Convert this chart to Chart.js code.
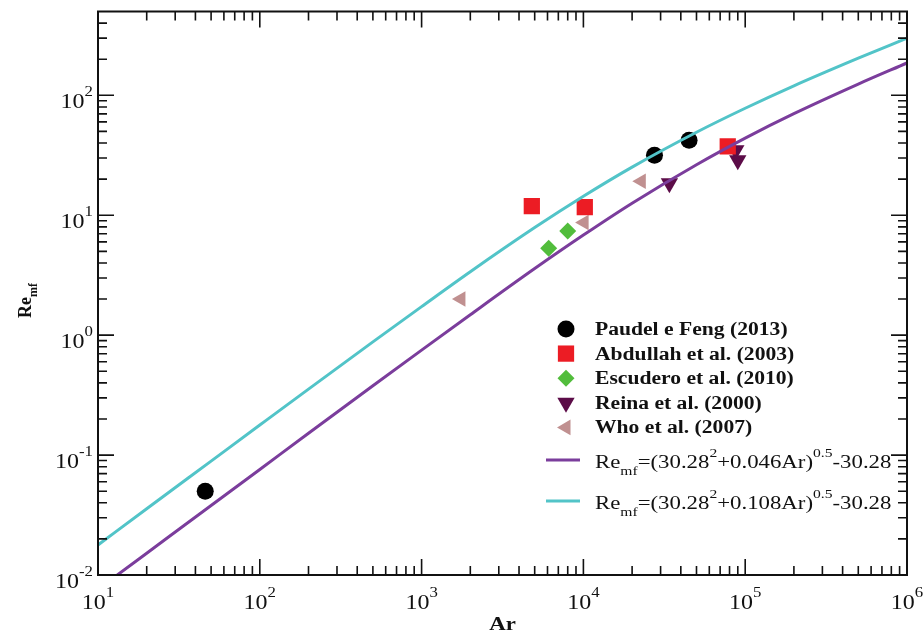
<!DOCTYPE html>
<html>
<head>
<meta charset="utf-8">
<script src="https://cdn.jsdelivr.net/npm/chart.js@4.4.1/dist/chart.umd.min.js"></script>
<style>
  html, body { margin: 0; padding: 0; background: #fff; }
  #wrap { width: 924px; height: 642px; }
</style>
</head>
<body>
<div id="wrap"><canvas id="chart" width="924" height="642"></canvas></div>
<script>
// Minimum fluidization Reynolds number against Archimedes number (log-log)
const arCurve = [10, 20, 50, 100, 200, 500, 1e3, 2e3, 5e3, 1e4, 2e4, 5e4, 1e5, 2e5, 5e5, 1e6];
const reCurveLow = [0.0076, 0.0152, 0.038, 0.0759, 0.152, 0.378, 0.750, 1.48, 3.59, 6.83, 12.6, 26.4, 44.0, 70.3, 124, 186];
const reCurveHigh = [0.0178, 0.0357, 0.0891, 0.178, 0.355, 0.879, 1.73, 3.38, 7.89, 14.4, 25.2, 49.2, 78.0, 120, 204, 300];

const paudelAr = [46, 27500, 45000];
const paudelRe = [0.050, 31.6, 42.2];
const abdullahAr = [4800, 10200, 78000];
const abdullahRe = [11.9, 11.7, 37.6];
const escuderoAr = [6100, 8000];
const escuderoRe = [5.3, 7.4];
const reinaAr = [34000, 87500, 90000];
const reinaRe = [18.5, 34.8, 28.7];
const whoAr = [1750, 10100, 22800];
const whoRe = [2.0, 8.7, 19.2];

const xDecades = [1, 2, 3, 4, 5, 6];
const yDecades = [-2, -1, 0, 1, 2];

const lowFormula = [['Re', 'n'], ['mf', 'sub'], ['=(30.28', 'n'], ['2', 'sup'], ['+0.046Ar)', 'n'], ['0.5', 'sup'], ['-30.28', 'n']];
const highFormula = [['Re', 'n'], ['mf', 'sub'], ['=(30.28', 'n'], ['2', 'sup'], ['+0.108Ar)', 'n'], ['0.5', 'sup'], ['-30.28', 'n']];

const pts = (xs, ys) => xs.map((x, i) => ({ x: x, y: ys[i] }));

const SERIF = '"Liberation Serif", "Times New Roman", serif';
const STRETCH = 1.2;

// draws text made of normal / superscript / subscript pieces
function richText(ctx, x, y, parts, size, weight, align) {
  const fontFor = k => weight + ' ' + (k === 'n' ? size : Math.round(size * 0.68)) + 'px ' + SERIF;
  ctx.save();
  ctx.translate(x, y);
  ctx.scale(STRETCH, 1);
  ctx.textBaseline = 'alphabetic';
  ctx.textAlign = 'left';
  const widths = parts.map(([t, k]) => { ctx.font = fontFor(k); return ctx.measureText(t).width; });
  const total = widths.reduce((s, w) => s + w, 0);
  let cx = align === 'right' ? -total : align === 'center' ? -total / 2 : 0;
  parts.forEach(([t, k], i) => {
    ctx.font = fontFor(k);
    const dy = k === 'sup' ? -size * 0.6 : k === 'sub' ? size * 0.35 : 0;
    ctx.fillText(t, cx, dy);
    cx += widths[i];
  });
  ctx.restore();
}

const framePlugin = {
  id: 'frame',
  afterDatasetsDraw(chart) {
    const { ctx, chartArea: a, scales: { x, y } } = chart;
    ctx.save();
    ctx.strokeStyle = '#111';
    ctx.fillStyle = '#111';
    ctx.lineWidth = 1.6;
    ctx.beginPath();
    // x ticks on bottom and top, pointing inward
    xDecades.forEach(e => {
      for (let k = 1; k <= 9; k++) {
        const v = k * Math.pow(10, e);
        if (v > x.max * 1.0001) break;
        const px = x.getPixelForValue(v);
        const len = k === 1 ? 16 : 9;
        ctx.moveTo(px, a.bottom); ctx.lineTo(px, a.bottom - len);
        ctx.moveTo(px, a.top); ctx.lineTo(px, a.top + len);
      }
    });
    // y ticks on left and right
    yDecades.forEach(e => {
      for (let k = 1; k <= 9; k++) {
        const v = k * Math.pow(10, e);
        if (v >= y.max) break;
        const py = y.getPixelForValue(v);
        const len = k === 1 ? 16 : 9;
        ctx.moveTo(a.left, py); ctx.lineTo(a.left + len, py);
        ctx.moveTo(a.right, py); ctx.lineTo(a.right - len, py);
      }
    });
    ctx.stroke();
    ctx.lineWidth = 2;
    ctx.strokeRect(a.left, a.top, a.right - a.left, a.bottom - a.top);

    // decade labels
    xDecades.forEach(e => {
      const px = x.getPixelForValue(Math.pow(10, e));
      richText(ctx, px, a.bottom + 34, [['10', 'n'], [String(e), 'sup']], 20, 'normal', 'center');
    });
    yDecades.forEach(e => {
      const py = y.getPixelForValue(Math.pow(10, e));
      const exp = e < 0 ? '-' + Math.abs(e) : String(e);
      richText(ctx, a.left - 5, py + 13, [['10', 'n'], [exp, 'sup']], 20, 'normal', 'right');
    });

    // axis titles
    richText(ctx, (a.left + a.right) / 2 - 0, a.bottom + 55, [['Ar', 'n']], 19, 'bold', 'center');
    ctx.save();
    ctx.translate(31, 318);
    ctx.rotate(-Math.PI / 2);
    ctx.textBaseline = 'alphabetic';
    ctx.font = 'bold 18px ' + SERIF;
    ctx.fillText('Re', 0, 0);
    const w = ctx.measureText('Re').width;
    ctx.font = 'bold 12px ' + SERIF;
    ctx.fillText('mf', w, 6);
    ctx.restore();
    ctx.restore();
  }
};

const legendPlugin = {
  id: 'sideLegend',
  afterDraw(chart) {
    const ctx = chart.ctx;
    const markX = 566, textX = 595;
    let row = 0;
    chart.data.datasets.forEach(ds => {
      if (!ds.showLine) {
        const yy = 329 + row * 24.6;
        ctx.save();
        ctx.fillStyle = ds.backgroundColor;
        ctx.strokeStyle = ds.borderColor;
        Chart.helpers.drawPoint(ctx, { pointStyle: ds.pointStyle, rotation: ds.rotation || 0, radius: ds.pointRadius, borderWidth: 0 }, markX, yy);
        ctx.restore();
        ctx.fillStyle = '#111';
        richText(ctx, textX, yy + 6, [[ds.label, 'n']], 18, 'bold', 'left');
        row++;
      }
    });
    chart.data.datasets.filter(ds => ds.showLine).forEach((ds, i) => {
      const yy = 460 + i * 41;
      ctx.save();
      ctx.strokeStyle = ds.borderColor;
      ctx.lineWidth = 3;
      ctx.beginPath();
      ctx.moveTo(546, yy); ctx.lineTo(580, yy);
      ctx.stroke();
      ctx.restore();
      ctx.fillStyle = '#111';
      richText(ctx, textX, yy + 8, ds.legendParts, 19, 'normal', 'left');
    });
  }
};

new Chart(document.getElementById('chart'), {
  type: 'scatter',
  data: {
    datasets: [
      { label: 'Paudel e Feng (2013)', data: pts(paudelAr, paudelRe), pointStyle: 'circle', pointRadius: 8.5,
        backgroundColor: '#000000', borderColor: '#000000', pointBorderWidth: 0, order: 1 },
      { label: 'Abdullah et al. (2003)', data: pts(abdullahAr, abdullahRe), pointStyle: 'rect', pointRadius: 11.5,
        backgroundColor: '#ec1c24', borderColor: '#ec1c24', pointBorderWidth: 0, order: 1 },
      { label: 'Escudero et al. (2010)', data: pts(escuderoAr, escuderoRe), pointStyle: 'rectRot', pointRadius: 8.5,
        backgroundColor: '#52bd3c', borderColor: '#52bd3c', pointBorderWidth: 0, order: 1 },
      { label: 'Reina et al. (2000)', data: pts(reinaAr, reinaRe), pointStyle: 'triangle', rotation: 180, pointRadius: 10,
        backgroundColor: '#5c0c48', borderColor: '#5c0c48', pointBorderWidth: 0, order: 1 },
      { label: 'Who et al. (2007)', data: pts(whoAr, whoRe), pointStyle: 'triangle', rotation: 270, pointRadius: 9,
        backgroundColor: '#c09090', borderColor: '#c09090', pointBorderWidth: 0, order: 1 },
      { label: 'Re_mf 0.046', data: pts(arCurve, reCurveLow), showLine: true, legendParts: lowFormula,
        borderColor: '#7b3d9c', borderWidth: 3, pointRadius: 0, cubicInterpolationMode: 'monotone', order: 0 },
      { label: 'Re_mf 0.108', data: pts(arCurve, reCurveHigh), showLine: true, legendParts: highFormula,
        borderColor: '#52c4c8', borderWidth: 3, pointRadius: 0, cubicInterpolationMode: 'monotone', order: 0 }
    ]
  },
  options: {
    responsive: false,
    animation: false,
    devicePixelRatio: 1,
    layout: { padding: { left: 98, top: 11, right: 17, bottom: 67 } },
    scales: {
      x: { type: 'logarithmic', min: 10, max: 1e6, display: false },
      y: { type: 'logarithmic', min: 0.01, max: 500, display: false }
    },
    plugins: { legend: { display: false }, tooltip: { enabled: false } }
  },
  plugins: [framePlugin, legendPlugin]
});
</script>
</body>
</html>
